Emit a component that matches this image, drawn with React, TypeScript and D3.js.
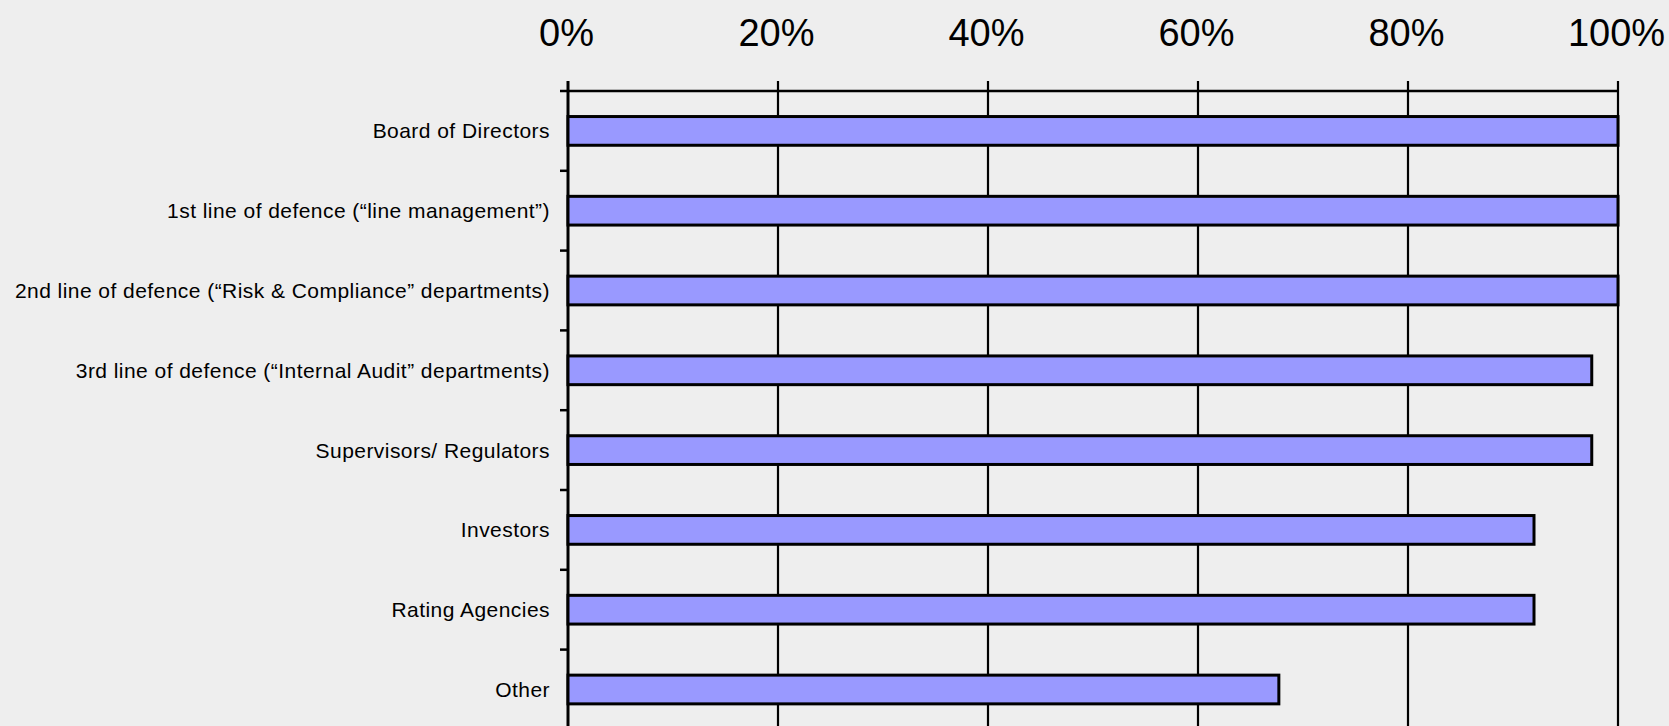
import React, { useEffect, useRef } from "react";
import * as d3 from "d3";

const categories = [
  "Board of Directors",
  "1st line of defence (“line management”)",
  "2nd line of defence (“Risk & Compliance” departments)",
  "3rd line of defence (“Internal Audit” departments)",
  "Supervisors/ Regulators",
  "Investors",
  "Rating Agencies",
  "Other",
];
const values = [100, 100, 100, 97.5, 97.5, 92, 92, 67.7];
const tickValues = [0, 20, 40, 60, 80, 100];

const W = 1669;
const H = 726;

export default function App() {
  const ref = useRef<SVGSVGElement>(null);

  useEffect(() => {
    const svg = d3.select(ref.current);
    svg.selectAll("*").remove();

    const x0 = 568, x1 = 1618, yTop = 91, band = 79.8;
    const x = d3.scaleLinear().domain([0, 100]).range([x0, x1]);
    const y = d3
      .scaleBand<string>()
      .domain(categories)
      .range([yTop, yTop + band * categories.length])
      .paddingInner(0.64)
      .paddingOuter(0.32);

    svg.append("rect").attr("width", W).attr("height", H).attr("fill", "#eeeeee");

    const yBottom = yTop + band * categories.length;

    // gridlines (vertical) incl. ticks above top
    svg
      .append("g")
      .selectAll("line")
      .data(tickValues)
      .join("line")
      .attr("x1", (d) => x(d))
      .attr("x2", (d) => x(d))
      .attr("y1", yTop - 10)
      .attr("y2", yBottom)
      .attr("stroke", "#000")
      .attr("stroke-width", (d) => (d === 0 ? 3 : 2.2));

    // top border
    svg
      .append("line")
      .attr("x1", x0)
      .attr("x2", x1)
      .attr("y1", yTop)
      .attr("y2", yTop)
      .attr("stroke", "#000")
      .attr("stroke-width", 2.5);

    // left category ticks
    svg
      .append("g")
      .selectAll("line")
      .data(d3.range(categories.length + 1))
      .join("line")
      .attr("x1", x0 - 8)
      .attr("x2", x0)
      .attr("y1", (i) => yTop + i * band)
      .attr("y2", (i) => yTop + i * band)
      .attr("stroke", "#000")
      .attr("stroke-width", 2.5);

    // bars
    svg
      .append("g")
      .selectAll("rect")
      .data(categories)
      .join("rect")
      .attr("x", x(0))
      .attr("y", (d) => y(d)!)
      .attr("width", (d, i) => x(values[i]) - x(0))
      .attr("height", y.bandwidth())
      .attr("fill", "#9999ff")
      .attr("stroke", "#000")
      .attr("stroke-width", 3);

    // category labels
    svg
      .append("g")
      .selectAll("text")
      .data(categories)
      .join("text")
      .attr("x", 550)
      .attr("y", (d) => y(d)! + y.bandwidth() / 2)
      .attr("dy", "0.36em")
      .attr("text-anchor", "end")
      .attr("font-family", "Liberation Sans, Arial, sans-serif")
      .attr("font-size", 21)
      .attr("letter-spacing", 0.45)
      .attr("fill", "#000")
      .text((d) => d);

    // top tick labels
    svg
      .append("g")
      .selectAll("text")
      .data(tickValues)
      .join("text")
      .attr("x", (d) => x(d) - 1.5)
      .attr("y", 46)
      .attr("text-anchor", "middle")
      .attr("font-family", "Liberation Sans, Arial, sans-serif")
      .attr("font-size", 38)
      .attr("fill", "#000")
      .text((d) => `${d}%`);
  }, []);

  return (
    <svg
      ref={ref}
      width={W}
      height={H}
      style={{ position: "absolute", left: 0, top: 0, display: "block" }}
    />
  );
}
